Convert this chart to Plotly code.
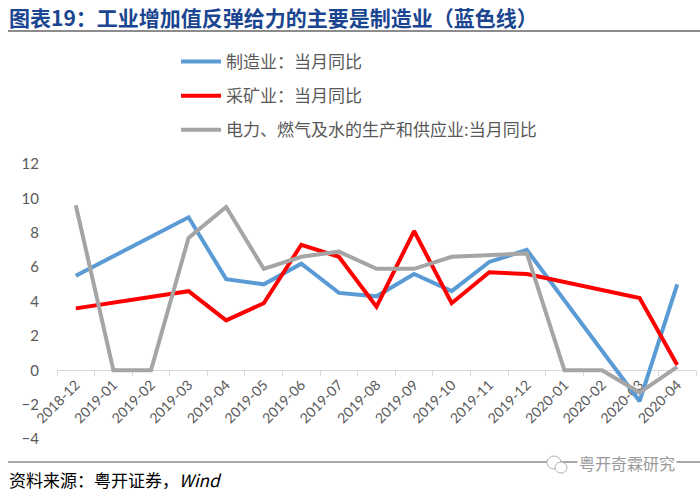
import plotly.graph_objects as go

categories = ["2018-12", "2019-01", "2019-02", "2019-03", "2019-04", "2019-05",
              "2019-06", "2019-07", "2019-08", "2019-09", "2019-10", "2019-11",
              "2019-12", "2020-01", "2020-02", "2020-03", "2020-04"]

manufacturing = [5.5, None, None, 8.9, 5.3, 5.0, 6.2, 4.5, 4.3, 5.6, 4.6, 6.3,
                 7.0, None, None, -1.8, 5.0]
mining = [3.6, None, None, 4.6, 2.9, 3.9, 7.3, 6.6, 3.7, 8.1, 3.9, 5.7,
          5.6, None, None, 4.2, 0.3]
utilities = [9.6, 0, 0, 7.7, 9.5, 5.9, 6.6, 6.9, 5.9, 5.9, 6.6, 6.7,
             6.8, 0, 0, -1.3, 0.2]

series_names = ["制造业：当月同比", "采矿业：当月同比", "电力、燃气及水的生产和供应业:当月同比"]
series_values = [manufacturing, mining, utilities]
series_colors = ["#5B9BD5", "#FF0000", "#A5A5A5"]

y_ticks = [-4, -2, 0, 2, 4, 6, 8, 10, 12]

fig = go.Figure()
for i, (name, vals, col) in enumerate(zip(series_names, series_values, series_colors)):
    fig.add_trace(go.Scatter(
        x=categories, y=vals, name=name, mode="lines",
        line=dict(color=col, width=4), connectgaps=True,
        legendgroup=f"g{i}",
    ))

label_font = dict(family="Lato, Noto Sans CJK SC, sans-serif", size=14, color="#595959")
cjk = "Noto Sans CJK SC, sans-serif"

def py(px):
    # convert a pixel row to paper y (plot area 164..439)
    return (439 - px) / 275

def pxx(px):
    # convert a pixel column to paper x (plot area 57..696)
    return (px - 57) / 639

fig.update_layout(
    width=700, height=496,
    margin=dict(l=57, r=4, t=164, b=57, autoexpand=False),
    paper_bgcolor="white", plot_bgcolor="white",
    showlegend=True,
    legend=dict(
        x=pxx(176), y=py(44), xanchor="left", yanchor="top",
        font=dict(family=cjk, size=17, color="#595959"),
        tracegroupgap=9, bgcolor="rgba(0,0,0,0)", itemwidth=40,
    ),
    xaxis=dict(
        type="category", range=[-0.5, 16.5], anchor="free", position=0.25,
        tickson="boundaries", ticks="outside", ticklen=5, tickcolor="#D9D9D9",
        showline=True, linecolor="#D9D9D9", linewidth=1,
        showgrid=False, zeroline=False, tickangle=-45,
        tickfont=label_font, layer="below traces",
    ),
    yaxis=dict(
        range=[-4, 12], tickvals=y_ticks, showgrid=False, zeroline=False,
        showline=False, ticks="outside", ticklen=14, tickcolor="rgba(0,0,0,0)",
        tickfont=dict(label_font, size=15),
    ),
    shapes=[
        dict(type="line", xref="paper", yref="paper", x0=pxx(8), x1=pxx(700),
             y0=py(31), y1=py(31), line=dict(color="#8C8C8C", width=2)),
        dict(type="line", xref="paper", yref="paper", x0=pxx(8), x1=pxx(700),
             y0=py(462), y1=py(462), line=dict(color="#8C8C8C", width=1.5)),
        dict(type="circle", xref="paper", yref="paper",
             x0=pxx(547), x1=pxx(561), y0=py(469), y1=py(456),
             fillcolor="white", line=dict(color="#B0B0B0", width=1)),
        dict(type="circle", xref="paper", yref="paper",
             x0=pxx(555), x1=pxx(567), y0=py(473), y1=py(462),
             fillcolor="white", line=dict(color="#B0B0B0", width=1)),
    ],
    annotations=[
        dict(text="<b>图表19：工业增加值反弹给力的主要是制造业（蓝色线）</b>",
             xref="paper", yref="paper", x=pxx(7), y=py(17),
             xanchor="left", yanchor="middle", showarrow=False,
             font=dict(family=cjk, size=21, color="#1A4590")),
        dict(text="资料来源：粤开证券，<i>Wind</i>",
             xref="paper", yref="paper", x=pxx(7), y=py(479),
             xanchor="left", yanchor="middle", showarrow=False,
             font=dict(family=cjk, size=17, color="#000000")),
        dict(text="粤开奇霖研究",
             xref="paper", yref="paper", x=pxx(677), y=py(463),
             xanchor="right", yanchor="middle", showarrow=False,
             bgcolor="white", borderpad=1,
             font=dict(family=cjk, size=16, color="#9A9A9A")),
    ],
)

fig.write_html("out.html", config={"displayModeBar": False})

# remove the browser's default page margin so the figure sits at the top-left corner
with open("out.html", encoding="utf-8") as f:
    html = f.read()
html = html.replace("<body>", '<body style="margin:0;padding:0;">', 1)
with open("out.html", "w", encoding="utf-8") as f:
    f.write(html)
